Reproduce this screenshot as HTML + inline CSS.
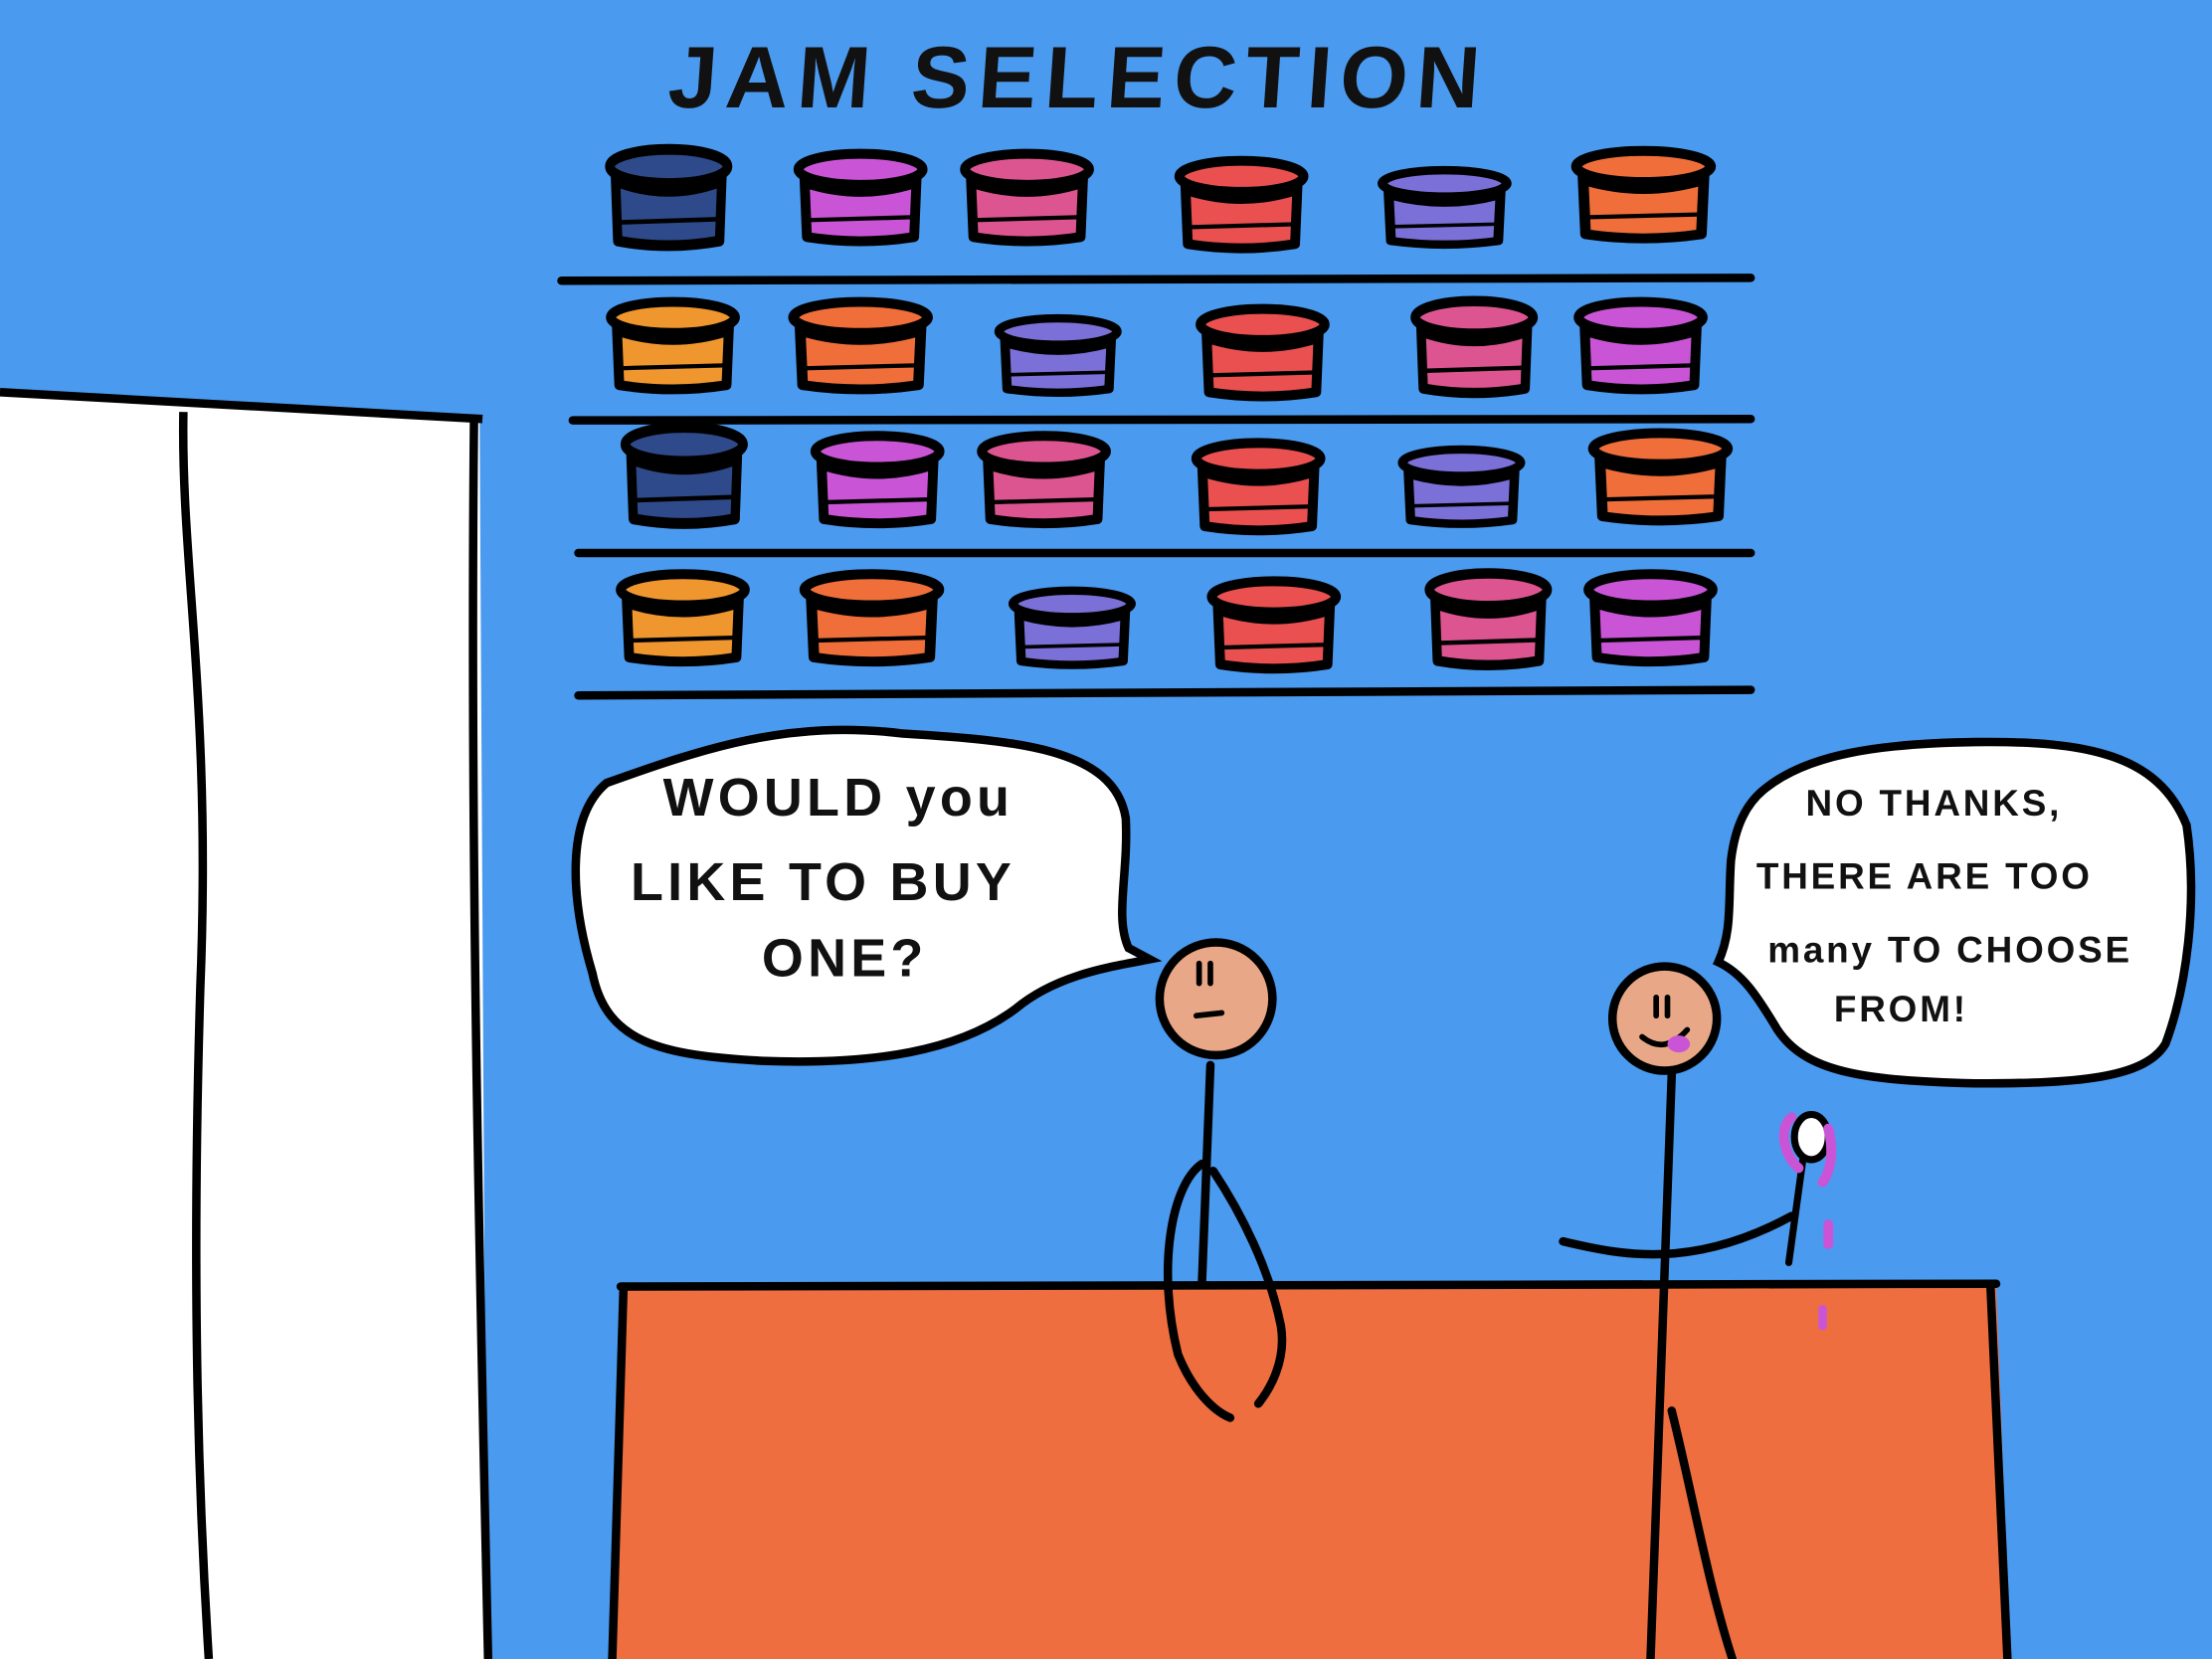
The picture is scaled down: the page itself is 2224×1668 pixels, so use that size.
<!DOCTYPE html>
<html><head><meta charset="utf-8"><style>
html,body{margin:0;padding:0;background:#4a9af0;}
svg{display:block}
text{font-family:"Liberation Sans",sans-serif;font-weight:bold;fill:#111;}
</style></head><body>
<svg width="2224" height="1668" viewBox="0 0 1568 1176" xmlns="http://www.w3.org/2000/svg" xmlns:xlink="http://www.w3.org/1999/xlink">
<defs>
<g id="j">
<path d="M-40,0 L-38,48 Q0,54 38,48 L40,0 Z"/>
<ellipse cx="0" cy="0" rx="44" ry="11"/>
<path d="M-38,10 Q0,22 38,10" fill="none"/>
<path d="M-36,36 L36,34" fill="none" stroke-width="3"/>
</g>
</defs>
<rect width="1568" height="1176" fill="#4a9af0"/>
<polygon points="0,280 340,298 345,1176 0,1176" fill="#fff"/>
<path d="M0,278 L342,297" stroke="#000" stroke-width="6" fill="none"/>
<path d="M336,298 C333,600 340,900 346,1176" stroke="#000" stroke-width="6" fill="none"/>
<path d="M130,292 C128,400 150,500 142,700 C136,900 140,1050 148,1176" stroke="#000" stroke-width="6" fill="none"/>
<text x="478" y="76" font-size="62" letter-spacing="6" transform="skewX(-4)">JAM SELECTION</text>
<g stroke="#000" stroke-width="6" stroke-linecap="round">
<line x1="398" y1="199" x2="1241" y2="197"/>
<line x1="406" y1="298" x2="1241" y2="297"/>
<line x1="410" y1="392" x2="1241" y2="392"/>
<line x1="410" y1="493" x2="1241" y2="489"/>
</g>
<g stroke="#000" stroke-width="7" stroke-linejoin="round">
<use xlink:href="#j" transform="translate(474,118) scale(0.95,1.1)" fill="#2e4a8a"/>
<use xlink:href="#j" transform="translate(610,120)" fill="#c955d6"/>
<use xlink:href="#j" transform="translate(728,120)" fill="#dd5590"/>
<use xlink:href="#j" transform="translate(880,125)" fill="#ea5050"/>
<use xlink:href="#j" transform="translate(1024,130) scale(1,0.85)" fill="#7b6fd8"/>
<use xlink:href="#j" transform="translate(1165,118) scale(1.08,1)" fill="#ef6e3a"/>

<use xlink:href="#j" transform="translate(477,225)" fill="#f0962f"/>
<use xlink:href="#j" transform="translate(610,225) scale(1.08,1)" fill="#ef6e3a"/>
<use xlink:href="#j" transform="translate(750,235) scale(0.95,0.85)" fill="#7b6fd8"/>
<use xlink:href="#j" transform="translate(895,230)" fill="#ea5050"/>
<use xlink:href="#j" transform="translate(1045,225) scale(0.95,1.05)" fill="#dd5590"/>
<use xlink:href="#j" transform="translate(1163,225)" fill="#c955d6"/>

<use xlink:href="#j" transform="translate(485,315) scale(0.95,1.1)" fill="#2e4a8a"/>
<use xlink:href="#j" transform="translate(622,320)" fill="#c955d6"/>
<use xlink:href="#j" transform="translate(740,320)" fill="#dd5590"/>
<use xlink:href="#j" transform="translate(892,325)" fill="#ea5050"/>
<use xlink:href="#j" transform="translate(1036,328) scale(0.95,0.85)" fill="#7b6fd8"/>
<use xlink:href="#j" transform="translate(1177,318) scale(1.08,1)" fill="#ef6e3a"/>

<use xlink:href="#j" transform="translate(484,418)" fill="#f0962f"/>
<use xlink:href="#j" transform="translate(618,418) scale(1.08,1)" fill="#ef6e3a"/>
<use xlink:href="#j" transform="translate(760,428) scale(0.95,0.85)" fill="#7b6fd8"/>
<use xlink:href="#j" transform="translate(903,423)" fill="#ea5050"/>
<use xlink:href="#j" transform="translate(1055,418) scale(0.95,1.05)" fill="#dd5590"/>
<use xlink:href="#j" transform="translate(1170,418)" fill="#c955d6"/>
</g>
<polygon points="440,912 1415,910 1425,1176 433,1176" fill="#ee6e3f"/>
<g stroke="#000" stroke-width="6" fill="none" stroke-linecap="round">
<path d="M440,912 L1415,910"/>
<path d="M442,912 L434,1176"/>
<path d="M1411,912 L1423,1176"/>
</g>
<path d="M430,555 C500,530 560,510 640,520 C720,525 790,530 798,580 C800,620 790,650 800,672 L815,680 C790,685 750,690 720,715 C680,745 620,755 540,752 C470,748 430,740 420,690 C405,640 400,580 430,555 Z" fill="#fff" stroke="#000" stroke-width="6"/>
<text x="470" y="578" font-size="38" letter-spacing="3">WOULD you</text>
<text x="447" y="638" font-size="38" letter-spacing="3">LIKE TO BUY</text>
<text x="540" y="692" font-size="38" letter-spacing="3">ONE?</text>
<path d="M1250,560 C1280,535 1330,527 1400,526 C1480,525 1530,535 1550,585 C1558,640 1550,700 1535,740 C1520,765 1470,768 1400,768 C1320,766 1280,760 1260,730 C1245,705 1235,690 1218,682 C1228,660 1225,640 1227,610 C1230,585 1238,570 1250,560 Z" fill="#fff" stroke="#000" stroke-width="6"/>
<text x="1280" y="578" font-size="26" letter-spacing="2">NO THANKS,</text>
<text x="1245" y="630" font-size="26" letter-spacing="2">THERE ARE TOO</text>
<text x="1253" y="682" font-size="26" letter-spacing="2">many TO CHOOSE</text>
<text x="1300" y="724" font-size="26" letter-spacing="2">FROM!</text>
<g stroke="#000" stroke-width="6" fill="none" stroke-linecap="round">
<line x1="858" y1="755" x2="852" y2="910"/>
<path d="M852,825 C830,840 820,900 835,960 C845,985 860,1000 872,1005"/>
<path d="M860,830 C880,860 900,900 908,940 C912,965 900,985 892,995"/>
<circle cx="862" cy="708" r="40" fill="#e8a888"/>
<line x1="850" y1="683" x2="850" y2="697" stroke-width="4"/>
<line x1="858" y1="683" x2="858" y2="697" stroke-width="4"/>
<line x1="848" y1="720" x2="866" y2="718" stroke-width="4"/>
</g>
<g stroke="#000" stroke-width="6" fill="none" stroke-linecap="round">
<line x1="1185" y1="762" x2="1170" y2="1176"/>
<path d="M1185,1000 C1200,1060 1210,1120 1228,1176"/>
<path d="M1108,880 C1150,890 1200,900 1270,862"/>
<circle cx="1180" cy="722" r="37" fill="#e8a888"/>
<line x1="1174" y1="707" x2="1174" y2="720" stroke-width="4"/>
<line x1="1182" y1="707" x2="1182" y2="720" stroke-width="4"/>
<path d="M1164,735 Q1180,748 1196,730" stroke-width="4"/>
<line x1="1278" y1="822" x2="1268" y2="895" stroke-width="5"/>
<ellipse cx="1284" cy="806" rx="12" ry="16" fill="#fff" stroke-width="5"/>
</g>
<ellipse cx="1190" cy="740" rx="8" ry="6" fill="#c955d6"/>
<path d="M1270,792 C1260,800 1265,820 1275,828 M1296,800 C1300,815 1298,830 1292,838" stroke="#c955d6" stroke-width="7" fill="none" stroke-linecap="round"/>
<line x1="1296" y1="868" x2="1296" y2="882" stroke="#c955d6" stroke-width="7" stroke-linecap="round"/>
<line x1="1292" y1="928" x2="1292" y2="940" stroke="#c955d6" stroke-width="6" stroke-linecap="round"/>
</svg>
</body></html>
